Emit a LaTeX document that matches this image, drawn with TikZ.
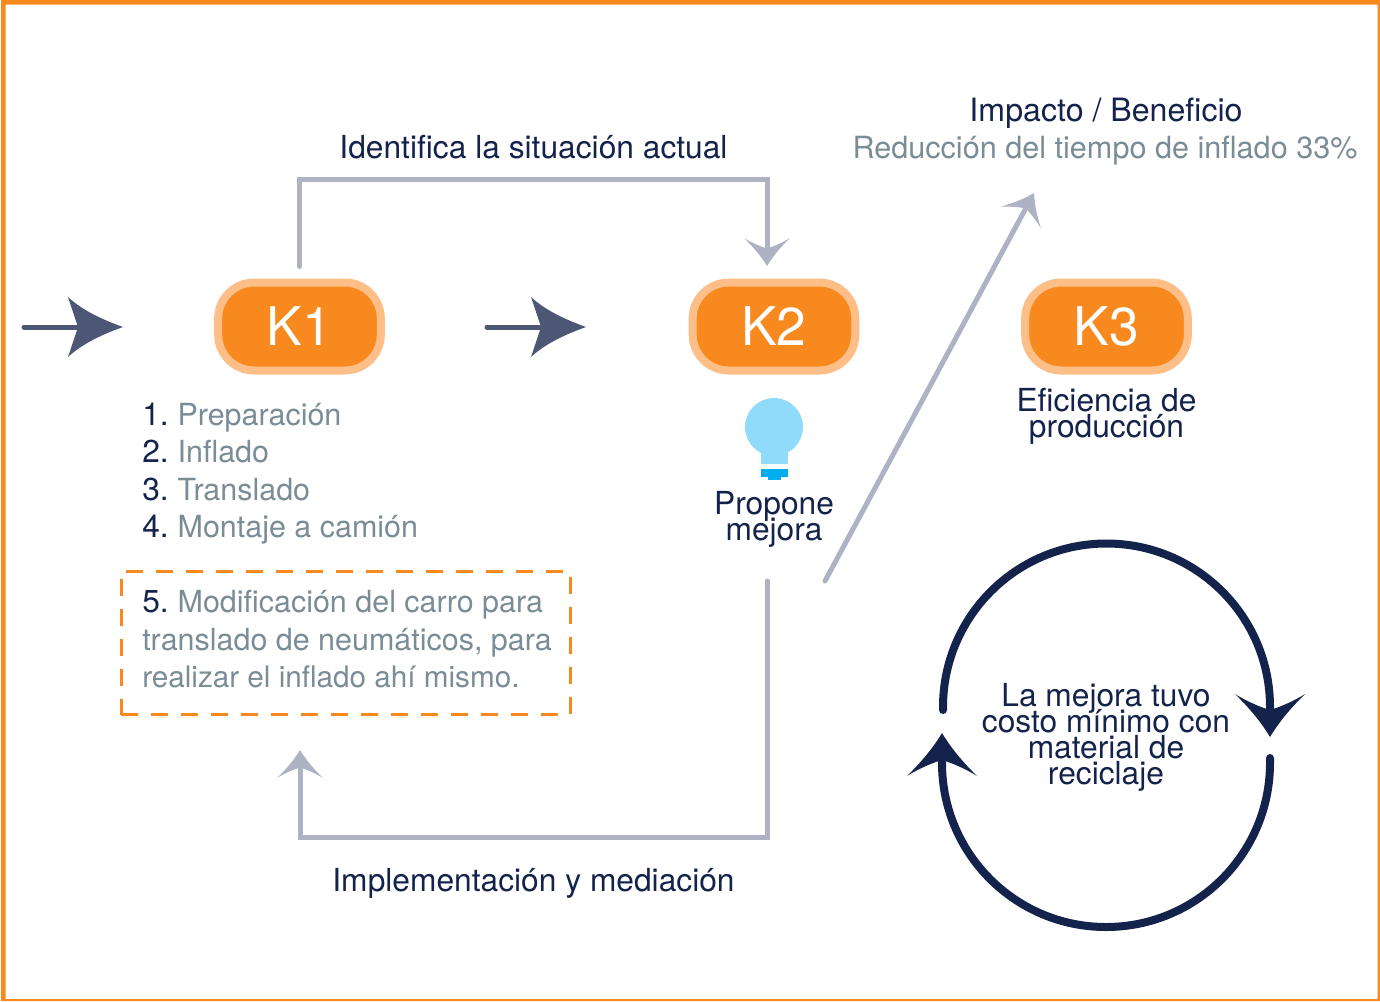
\documentclass[tikz,border=0pt]{standalone}
\usepackage{fontspec}
\setmainfont{TeX Gyre Heros}
\usetikzlibrary{arrows.meta}
\lineskiplimit=-50pt
\normallineskiplimit=-50pt
\definecolor{framecol}{HTML}{F7891F}
\definecolor{ringcol}{HTML}{FDBF87}
\definecolor{navy}{HTML}{14234B}
\definecolor{slatecol}{HTML}{4D5675}
\definecolor{flowcol}{HTML}{ADB3C2}
\definecolor{graytext}{HTML}{7A8C95}
\definecolor{bulbl}{HTML}{90DAFA}
\definecolor{bulbd}{HTML}{00AEEF}
% curved barbed tips; sizes in picture pixels (1px = .75pt)
\newcommand{\declbarb}[3]{%
\pgfdeclarearrow{name=#1,
 setup code={\pgfarrowssettipend{0pt}\pgfarrowssetbackend{\dimexpr-#2pt*3/4\relax}\pgfarrowssetlineend{\dimexpr-#2pt/2\relax}\pgfarrowssetvisualbackend{\dimexpr-#2pt/2\relax}},
 drawing code={%
  \pgfpathmoveto{\pgfpoint{0pt}{0pt}}%
  \pgfpathcurveto{\pgfpoint{-#2*.3pt}{#3*.22pt}}{\pgfpoint{-#2*.55pt}{#3*.5pt}}{\pgfpoint{-#2*.75pt}{#3*.75pt}}%
  \pgfpathcurveto{\pgfpoint{-#2*.62pt}{#3*.5pt}}{\pgfpoint{-#2*.52pt}{#3*.2pt}}{\pgfpoint{-#2*.47pt}{0pt}}%
  \pgfpathcurveto{\pgfpoint{-#2*.52pt}{-#3*.2pt}}{\pgfpoint{-#2*.62pt}{-#3*.5pt}}{\pgfpoint{-#2*.75pt}{-#3*.75pt}}%
  \pgfpathcurveto{\pgfpoint{-#2*.55pt}{-#3*.5pt}}{\pgfpoint{-#2*.3pt}{-#3*.22pt}}{\pgfpoint{0pt}{0pt}}%
  \pgfpathclose\pgfusepathqfill},
 defaults={}}}
\declbarb{GrayBarb}{28}{23}
\declbarb{NavyBarb}{43}{35}
\pgfdeclarearrow{name=SlateDart,
 setup code={\pgfarrowssettipend{0pt}\pgfarrowssetbackend{-41.25pt}\pgfarrowssetlineend{-30pt}\pgfarrowssetvisualbackend{-30pt}},
 drawing code={%
  \pgfpathmoveto{\pgfpoint{0pt}{0pt}}%
  \pgfpathcurveto{\pgfpoint{-14pt}{5pt}}{\pgfpoint{-30pt}{12pt}}{\pgfpoint{-41.25pt}{22.5pt}}%
  \pgfpathlineto{\pgfpoint{-33.75pt}{0pt}}%
  \pgfpathlineto{\pgfpoint{-41.25pt}{-22.5pt}}%
  \pgfpathcurveto{\pgfpoint{-30pt}{-12pt}}{\pgfpoint{-14pt}{-5pt}}{\pgfpoint{0pt}{0pt}}%
  \pgfpathclose\pgfusepathqfill},
 defaults={}}
\tikzset{
  kbox/.style={draw=ringcol,fill=framecol,line width=6pt,rounded corners=27pt,
    minimum width=122pt,minimum height=66pt,inner sep=0pt,text=white,
    font=\fontsize{40}{40}\selectfont},
  flow/.style={draw=flowcol,line width=3.75pt,line cap=round,-{GrayBarb}},
  feed/.style={draw=slatecol,line width=3.75pt,line cap=round,-{SlateDart}},
  loopline/.style={draw=navy,line width=6pt,line cap=round,-{NavyBarb}},
  lab/.style={inner sep=0pt,text=navy,anchor=base,font=\fontsize{23.8}{28}\selectfont},
  graylab/.style={inner sep=0pt,text=graytext,anchor=base,font=\fontsize{22.95}{28}\selectfont},
  tight/.style={lab,align=center,font=\fontsize{23.8}{19.5}\selectfont},
  listtext/.style={inner sep=0pt,text=graytext,align=left,anchor=north west,
    font=\fontsize{22.85}{28.1}\selectfont},
}
\newcommand{\nm}[1]{\textcolor{navy}{\fontsize{23.8}{28.1}\selectfont #1}\kern-1.8pt\relax}
\begin{document}
\begin{tikzpicture}[x=0.75pt,y=-0.75pt]
\useasboundingbox (0,0) rectangle (1380,1001);
\fill[framecol,even odd rule] (1,0) rectangle (1380,1001) (5.5,4.5) rectangle (1377.5,999);

\node[kbox] (k1) at (299.5,326.5) {K1};
\node[kbox] (k2) at (774,326.5) {K2};
\node[kbox] (k3) at (1106.5,326.5) {K3};

% labels
\node[lab] (identifica) at (533.5,158.5) {Identifica la situación actual};
\node[lab,font=\fontsize{24.1}{28}\selectfont] (impacto) at (1106,121) {Impacto / Beneficio};
\node[graylab] (reduccion) at (1105,158.5) {Reducción del tiempo de inflado 33\%};
\node[lab] (implementa) at (533.5,891) {Implementación y mediación};
\node[tight] (eficiencia) at (1106.5,437) {Eficiencia de\\producción};
\node[tight] (propone) at (774,540) {Propone\\mejora};
\node[tight] (costo) at (1106,784.5) {La mejora tuvo\\costo mínimo con\\material de\\reciclaje};

\node[listtext] (lista) at (142,402.5) {\nm{1.} Preparación\\\nm{2.} Inflado\\\nm{3.} Translado\\\nm{4.} Montaje a camión};
\node[listtext] (cinco) at (142,590) {\nm{5.} Modificación del carro para\\translado de neumáticos, para\\\fontsize{22.25}{28.1}\selectfont realizar el inflado ahí mismo.};
\node[draw=framecol,line width=2.25pt,dash pattern=on 12.75pt off 9.75pt,inner sep=0pt,
      minimum width=337pt,minimum height=107.5pt] (caja) at (346,643) {};

% bulb
\fill[bulbl] (774,427) circle[radius=29];
\fill[bulbl] (761,445) rectangle (788,464);
\fill[bulbd] (761,469) rectangle (788,477);
\fill[bulbd] (768,477) rectangle (781,480);

% free ends and corners
\coordinate (feed1s) at (24,327);
\coordinate (feed1e) at (123,327);
\coordinate (feed2s) at (487,327);
\coordinate (feed2e) at (586,327);
\coordinate (a1) at (299.5,179);
\coordinate (a2) at (767,179);
\coordinate (a3) at (767,266);
\coordinate (b0) at (767,581);
\coordinate (b1) at (767,837);
\coordinate (b2) at (300,837);
\coordinate (b3) at (300,750);
\coordinate (c0) at (825,581);
\coordinate (c1) at (1034,193);

\draw[feed] (feed1s) -- (feed1e);
\draw[feed] (feed2s) -- (feed2e);
\draw[flow,shorten <=9pt] (k1.north) -- (a1) -- (a2) -- (a3);
\draw[flow] (b0) -- (b1) -- (b2) -- (b3);
\draw[flow] (c0) -- (c1);

% loop
\coordinate (r1) at (943,710);
\coordinate (r2) at (943,707);
\coordinate (r3) at (1270,737);
\coordinate (s1) at (1270,758);
\coordinate (s2) at (1270,763);
\coordinate (s3) at (942,733);
\draw[loopline] (r1) -- (r2) arc[start angle=180,end angle=360,radius=163.5] -- (r3);
\draw[loopline] (s1) -- (s2) arc[start angle=0,end angle=180,radius=164] -- (s3);
\end{tikzpicture}
\end{document}
